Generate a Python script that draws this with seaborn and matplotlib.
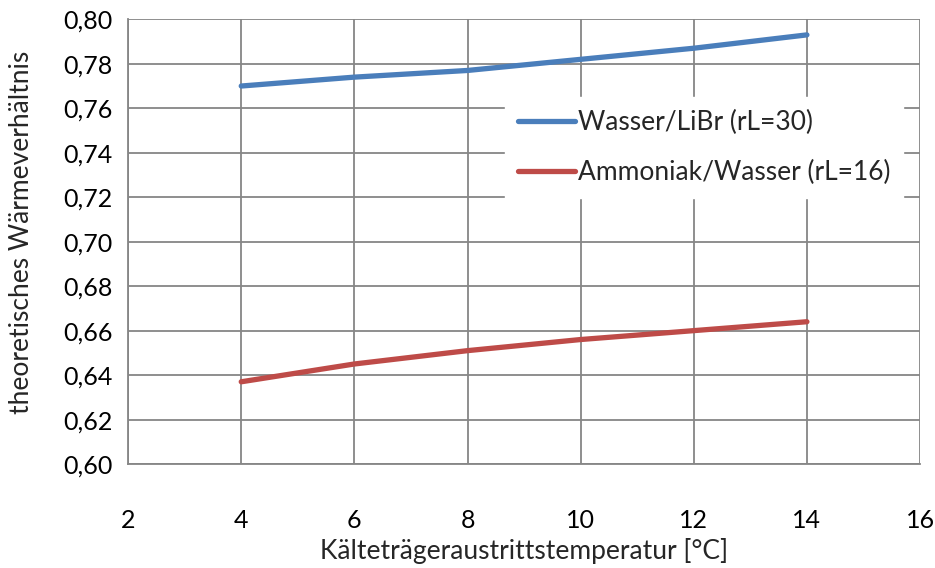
import pandas as pd
import seaborn as sns
import matplotlib.pyplot as plt
from matplotlib.ticker import FuncFormatter

# values
temps = [4, 6, 8, 10, 12, 14]
libr = [0.770, 0.774, 0.777, 0.782, 0.787, 0.793]
ammoniak = [0.637, 0.645, 0.651, 0.656, 0.660, 0.664]
series_names = ["Wasser/LiBr (rL=30)", "Ammoniak/Wasser (rL=16)"]
x_ticks = [2, 4, 6, 8, 10, 12, 14, 16]
y_ticks = [0.60, 0.62, 0.64, 0.66, 0.68, 0.70, 0.72, 0.74, 0.76, 0.78, 0.80]

data = pd.DataFrame({
    "T": temps * 2,
    "val": libr + ammoniak,
    "Reihe": [series_names[0]] * len(temps) + [series_names[1]] * len(temps),
})

sns.set_style("white")
plt.rcParams['font.family'] = ['Lato', 'DejaVu Sans']

fig = plt.figure(figsize=(9.35, 5.68), dpi=100)
ax = fig.add_axes([0.137, 0.183, 0.847, 0.783])

grey = "#868686"
sns.lineplot(data=data, x="T", y="val", hue="Reihe", ax=ax,
             palette=["#4A7EBB", "#BE4B48"], linewidth=3.8,
             solid_capstyle="round", legend=True)

ax.set_xlim(2, 16)
ax.set_ylim(0.60, 0.80)
ax.set_xticks(x_ticks)
ax.set_yticks(y_ticks)
ax.yaxis.set_major_formatter(FuncFormatter(lambda v, p: f"{v:.2f}".replace(".", ",")))
ax.grid(True, color=grey, linewidth=1.3)
ax.set_axisbelow(True)

for s in ["top", "right"]:
    ax.spines[s].set_visible(False)
for s in ["left", "bottom"]:
    ax.spines[s].set_color(grey)
    ax.spines[s].set_linewidth(1.3)
ax.tick_params(axis="both", direction="out", length=7, width=1.3, color=grey,
               labelsize=18, labelcolor="black")
ax.tick_params(axis="x", pad=25)
ax.tick_params(axis="y", pad=4)

ax.set_xlabel("Kälteträgeraustrittstemperatur [°C]", fontsize=19)
ax.set_ylabel("theoretisches Wärmeverhältnis", fontsize=19)
ax.xaxis.set_label_coords(0.5, -0.195)
ax.yaxis.set_label_coords(-0.134, 0.52)
ax.xaxis.label.set_va("center")
ax.yaxis.label.set_va("center")

leg = ax.legend(loc="upper left", bbox_to_anchor=(0.476, 0.826), frameon=True,
                fontsize=19, handlelength=2.15, handletextpad=0.1,
                labelspacing=0.95, borderpad=0.5, borderaxespad=0)
leg.get_frame().set_edgecolor("white")
leg.get_frame().set_facecolor("white")
leg.get_frame().set_alpha(1)
leg.get_frame().set_boxstyle("square", pad=0)
for line in leg.get_lines():
    line.set_linewidth(3.8)

plt.savefig("out.png", dpi=100)
